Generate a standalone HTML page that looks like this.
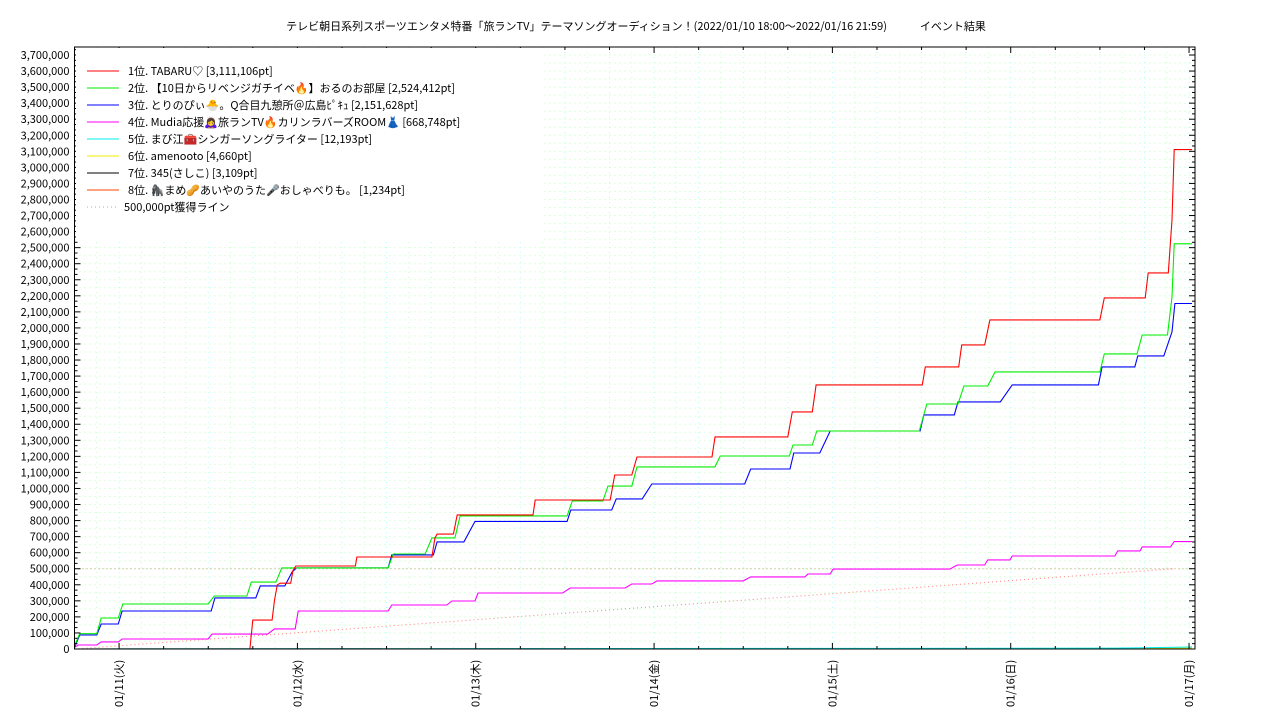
<!DOCTYPE html>
<html><head><meta charset="utf-8">
<style>
html,body{margin:0;padding:0;background:#fff;}
svg text{font-family:"Noto Sans CJK JP","Liberation Sans",sans-serif;fill:#000;}
</style></head>
<body>
<svg id="chart" width="1280" height="720" xmlns="http://www.w3.org/2000/svg">
<text x="636" y="30" font-size="11" text-anchor="middle">テレビ朝日系列スポーツエンタメ特番「旅ランTV」テーマソングオーディション！(2022/01/10 18:00〜2022/01/16 21:59)　　　イベント結果</text>
<g id="grid"></g>
<g id="series"></g>
<g id="axes"></g>
<g id="legend"></g>
</svg>
<script>
// hours since 2022/01/10 18:00, values in thousands of pt
const xTickLabels = ["01/11(火)","01/12(水)","01/13(木)","01/14(金)","01/15(土)","01/16(日)","01/17(月)"];
const xTickHours = [6,30,54,78,102,126,150];
const yTickValues = [0,100,200,300,400,500,600,700,800,900,1000,1100,1200,1300,1400,1500,1600,1700,1800,1900,2000,2100,2200,2300,2400,2500,2600,2700,2800,2900,3000,3100,3200,3300,3400,3500,3600,3700];
const redT = [23.6,24.0,26.6,26.9,27.3,27.7,29.1,29.4,29.8,37.8,38.0,48.1,48.5,48.8,51.0,51.5,61.7,62.0,72.1,72.7,75.0,75.7,85.8,86.2,96.0,96.6,99.3,99.8,114.1,114.5,119.0,119.4,122.5,123.2,138.0,138.6,144.1,144.5,147.2,147.7,148.0,150.4];
const redV = [0,180,180,300,400,410,410,490,517,517,573,573,690,716,716,835,835,928,928,1084,1084,1196,1196,1321,1321,1477,1477,1645,1645,1757,1757,1894,1894,2050,2050,2187,2187,2343,2343,2673,3111,3111];
const greenT = [0,0.7,3.0,3.6,5.9,6.5,18.0,18.8,23.2,23.8,27.1,27.9,42.2,42.9,47.2,48.1,51.2,51.9,66.3,67.0,71.1,71.8,75.0,75.7,86.2,86.9,96.2,96.7,99.3,99.9,113.7,114.7,118.9,119.7,122.9,123.9,138.0,138.6,143.0,143.7,147.1,147.7,148.0,150.4];
const greenV = [20,95,95,193,193,280,280,330,330,417,417,505,505,592,592,692,692,829,829,922,922,1015,1015,1134,1134,1202,1202,1271,1271,1358,1358,1526,1526,1638,1638,1726,1726,1838,1838,1956,1956,2193,2524,2524];
const blueT = [0,0.7,3.0,3.6,5.9,6.4,18.4,18.9,24.4,25.0,28.3,29.3,29.9,42.2,42.7,48.3,48.8,52.4,53.9,66.3,66.8,72.3,72.9,76.4,77.7,90.2,91.0,96.3,96.8,100.3,101.7,113.8,114.3,118.4,118.9,124.6,126.2,137.8,138.3,142.7,143.1,146.6,147.7,148.1,150.4];
const blueV = [10,87,87,156,156,237,237,318,318,393,393,480,505,505,586,586,667,667,795,795,866,866,935,935,1028,1028,1121,1121,1221,1221,1358,1358,1458,1458,1539,1539,1645,1645,1757,1757,1826,1826,1975,2152,2152];
const magentaT = [0,0.5,3.0,3.6,5.9,6.4,18.0,18.5,26.0,26.9,29.7,30.1,42.2,42.7,50.1,50.8,53.9,54.3,65.7,66.7,74.1,75.0,77.7,78.4,90.0,91.0,98.3,98.7,101.7,102.1,117.8,118.8,122.5,122.9,125.9,126.2,140.0,140.4,143.4,143.7,147.5,148.0,150.4];
const magentaV = [10,25,25,44,44,62,62,93,93,125,125,237,237,274,274,299,299,349,349,380,380,405,405,424,424,449,449,467,467,498,498,523,523,555,555,579,579,611,611,636,636,669,669];
const cyanT = [0,140,150.4];
const cyanV = [0,5,12.2];
const yellowT = [97,150.4];
const yellowV = [0,4.7];
const blackT = [0,150.4];
const blackV = [0,3.1];
const orangeT = [0,150.4];
const orangeV = [0,1.2];
const targetT = [0,148];
const targetV = [0,500];
const legendLabels = ["1位. TABARU♡ [3,111,106pt]","2位. 【10日からリベンジガチイベ🔥】おるのお部屋 [2,524,412pt]","3位. とりのぴぃ🐣。Q合目九憩所＠広島ﾋﾟｷｭ [2,151,628pt]","4位. Mudia応援🙇‍♀️旅ランTV🔥カリンラバーズROOM👗 [668,748pt]","5位. まび江🧰シンガーソングライター [12,193pt]","6位. amenooto [4,660pt]","7位. 345(さしこ) [3,109pt]","8位. 🦍まめ🥜あいやのうた🎤おしゃべりも。 [1,234pt]","500,000pt獲得ライン"];

const NS="http://www.w3.org/2000/svg";
const X0=74.5, X1=1195, Y0=649, Y1=47, HMAX=150.8, VMAX=3750;
function xs(h){return X0+(X1-X0)*h/HMAX;}
function ys(v){return Y0-(Y0-55)*v/3700;}
function mk(tag,attrs,parent){const e=document.createElementNS(NS,tag);for(const k in attrs)e.setAttribute(k,attrs[k]);parent.appendChild(e);return e;}
const grid=document.getElementById('grid'), axes=document.getElementById('axes'), ser=document.getElementById('series'), leg=document.getElementById('legend');

// grid
for(let v=50;v<VMAX;v+=50){const l=mk('line',{x1:X0,x2:X1,y1:ys(v),y2:ys(v),stroke:'#aaffaa','stroke-width':1,'stroke-dasharray':'1,4','opacity':0.8},grid);

}
for(let h=0;h<HMAX;h+=3){const col=(h%6===0)?'#9ff':'#bfb';const l=mk('line',{x1:xs(h),x2:xs(h),y1:Y1,y2:Y0,stroke:col,'stroke-width':1,'stroke-dasharray':'1,4','opacity':0.8},grid);

}
const ref=mk('line',{x1:X0,x2:X1,y1:ys(500),y2:ys(500),stroke:'#b8a070','stroke-width':1,'stroke-dasharray':'1,3'},grid);



// series
function drawSeries(T,V,color,name,dash){
  const pts=T.map((t,i)=>xs(t).toFixed(1)+','+ys(V[i]).toFixed(1)).join(' ');
  const p=mk('polyline',{points:pts,fill:'none',stroke:color,'stroke-width':1.1},ser);
  if(dash)p.setAttribute('stroke-dasharray',dash);
  
  
}
drawSeries(targetT,targetV,'#f88','target-line-500k','1,3');
drawSeries(orangeT,orangeV,'#f40','series-rank8');
drawSeries(blackT,blackV,'#000','series-rank7');
drawSeries(yellowT,yellowV,'#dd0','series-rank6');
drawSeries(cyanT,cyanV,'#0ee','series-rank5');
drawSeries(magentaT,magentaV,'#f0f','series-rank4');
drawSeries(blueT,blueV,'#00f','series-rank3');
drawSeries(greenT,greenV,'#0e0','series-rank2');
drawSeries(redT,redV,'#f00','series-rank1');

// axes frame
const fr=mk('rect',{x:X0,y:Y1,width:X1-X0,height:Y0-Y1,fill:'none',stroke:'#000','stroke-width':1},axes);


yTickValues.forEach(v=>{
  const y=ys(v);
  mk('line',{x1:X0,x2:X0+6,y1:y,y2:y,stroke:'#000'},axes);
  mk('line',{x1:X1,x2:X1-6,y1:y,y2:y,stroke:'#000'},axes);
  const t=mk('text',{x:X0-5,y:y+4,'font-size':11,'text-anchor':'end'},axes);
  t.textContent=v===0?'0':(v*1000).toLocaleString('en-US');
  
  
  for(let k=1;k<3;k++){const yy=ys(v+k*100/3);if(yy>Y1){mk('line',{x1:X0,x2:X0+3,y1:yy,y2:yy,stroke:'#000'},axes);mk('line',{x1:X1,x2:X1-3,y1:yy,y2:yy,stroke:'#000'},axes);}}
});
for(let h=0;h<HMAX;h+=6){const x=xs(h);const major=(h%24===6);
  mk('line',{x1:x,x2:x,y1:Y0,y2:Y0-(major?6:3),stroke:'#000'},axes);
  mk('line',{x1:x,x2:x,y1:Y1,y2:Y1+(major?6:3),stroke:'#000'},axes);}
xTickHours.forEach((h,i)=>{
  const x=xs(h)+4;
  const t=mk('text',{x:x,y:707,'font-size':11,'text-anchor':'start',transform:'rotate(-90 '+x+' 707)'},axes);
  t.textContent=xTickLabels[i];
  
  
});

// legend
const lb=mk('rect',{x:76,y:48,width:467,height:192,fill:'#fff'},leg);


const legColors=['#f00','#0e0','#00f','#f0f','#0ee','#ee0','#000','#f40','#f88'];
legendLabels.forEach((s,i)=>{
  const y=71+i*17;
  const g=mk('g',{},leg);
  
  
  const l=mk('line',{x1:87,x2:119,y1:y,y2:y,stroke:legColors[i],'stroke-width':1},g);
  if(i===8)l.setAttribute('stroke-dasharray','1,3');
  const t=mk('text',{x:i===8?124:128,y:y+4,'font-size':11},g);
  t.textContent=s;
});
</script>
</body></html>
